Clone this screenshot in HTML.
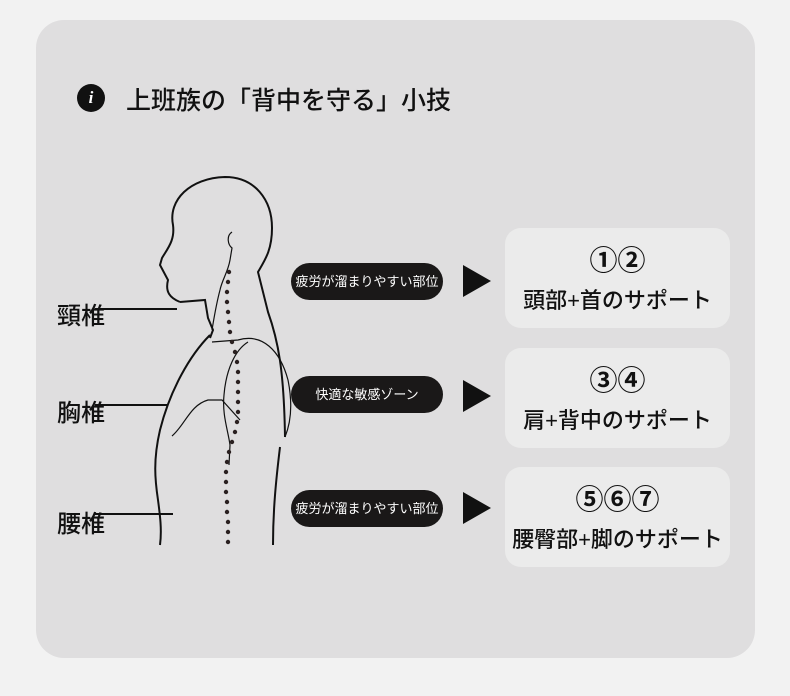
<!DOCTYPE html>
<html><head><meta charset="utf-8"><style>
body{margin:0;width:790px;height:696px;background:#f2f2f2;position:relative;overflow:hidden;font-family:"Liberation Sans","Noto Sans CJK JP",sans-serif;}
.card{position:absolute;left:36px;top:20px;width:719px;height:638px;background:#dfdedf;border-radius:28px;}
.t{position:absolute;color:#111;white-space:nowrap;}
.pill{position:absolute;left:291px;width:152px;height:37px;background:#1a1818;border-radius:19px;color:#fff;font-size:13px;line-height:37px;text-align:center;}
.tri{position:absolute;left:463px;width:0;height:0;border-top:16px solid transparent;border-bottom:16px solid transparent;border-left:28px solid #111;}
.box{position:absolute;left:505px;width:225px;height:100px;background:#ebebeb;border-radius:16px;text-align:center;color:#111;}
.box .n{font-size:28px;margin-top:16px;line-height:34px;font-weight:bold;}
.box .s{font-size:22px;margin-top:8px;line-height:30px;font-weight:500;}
</style></head><body>
<div class="card"></div>
<div style="position:absolute;left:77px;top:84px;width:28px;height:28px;border-radius:50%;background:#111;color:#fff;font:italic bold 17px 'Liberation Serif',serif;text-align:center;line-height:28px;">i</div>
<div class="t" style="left:126px;top:81px;font-size:25px;font-weight:500;">上班族の「背中を守る」小技</div>

<div class="t" style="left:57px;top:296px;font-size:24px;font-weight:500;">頸椎</div>
<div class="t" style="left:57px;top:393px;font-size:24px;font-weight:500;">胸椎</div>
<div class="t" style="left:57px;top:504px;font-size:24px;font-weight:500;">腰椎</div>

<svg style="position:absolute;left:0;top:0" width="790" height="696">
<g fill="none" stroke="#111" stroke-width="2">
<line x1="95" y1="309" x2="177" y2="309"/>
<line x1="95" y1="405" x2="168" y2="405"/>
<line x1="95" y1="514" x2="173" y2="514"/>
<path d="M180,302 C170,298 165,292 168,280 L160,265 L162,258 C168,248 175,240 173,225 C168,200 190,178 225,177 C255,177 272,200 272,228 C272,250 265,260 258,272 L268,312 C278,340 284,370 285,437"/>
<path d="M280,447 C276,480 273,510 273,545"/>
<path d="M180,302 L205,300 L208,318 L213,330 L210,338"/>
<path d="M210,335 C190,355 170,390 160,430 C153,460 155,480 158,500 C160,515 162,530 160,545"/>
</g>
<g fill="none" stroke="#111" stroke-width="1.2">
<path d="M232,232 C226,236 228,245 232,248 L230,260 C228,272 222,280 220,290 C216,305 214,318 212,330"/>
<path d="M212,342 L238,340 C262,333 280,350 288,380 C292,400 292,420 285,437"/>
<path d="M248,342 C235,350 226,370 224,395 C222,415 228,430 230,445 L229,465"/>
<path d="M172,436 C185,425 190,405 208,400 L222,400 L240,420"/>
</g>
<g fill="#2a2020">
<circle cx="229" cy="272" r="2.2"/><circle cx="228" cy="282" r="2.2"/><circle cx="227" cy="292" r="2.2"/><circle cx="227" cy="302" r="2.2"/><circle cx="228" cy="312" r="2.2"/><circle cx="229" cy="322" r="2.2"/><circle cx="230" cy="332" r="2.2"/><circle cx="232" cy="342" r="2.2"/><circle cx="235" cy="352" r="2.2"/><circle cx="237" cy="362" r="2.2"/><circle cx="238" cy="372" r="2.2"/><circle cx="238" cy="382" r="2.2"/><circle cx="238" cy="392" r="2.2"/><circle cx="238" cy="402" r="2.2"/><circle cx="238" cy="412" r="2.2"/><circle cx="237" cy="422" r="2.2"/><circle cx="235" cy="432" r="2.2"/><circle cx="232" cy="442" r="2.2"/><circle cx="229" cy="452" r="2.2"/><circle cx="227" cy="462" r="2.2"/><circle cx="226" cy="472" r="2.2"/><circle cx="226" cy="482" r="2.2"/><circle cx="226" cy="492" r="2.2"/><circle cx="227" cy="502" r="2.2"/><circle cx="227" cy="512" r="2.2"/><circle cx="228" cy="522" r="2.2"/><circle cx="228" cy="532" r="2.2"/><circle cx="228" cy="542" r="2.2"/>
</g>
</svg>

<div class="pill" style="top:263px;">疲労が溜まりやすい部位</div>
<div class="pill" style="top:376px;">快適な敏感ゾーン</div>
<div class="pill" style="top:490px;">疲労が溜まりやすい部位</div>
<div class="tri" style="top:265px;"></div>
<div class="tri" style="top:380px;"></div>
<div class="tri" style="top:492px;"></div>

<div class="box" style="top:228px;"><div class="n">①②</div><div class="s">頭部+首のサポート</div></div>
<div class="box" style="top:348px;"><div class="n">③④</div><div class="s">肩+背中のサポート</div></div>
<div class="box" style="top:467px;"><div class="n">⑤⑥⑦</div><div class="s">腰臀部+脚のサポート</div></div>
</body></html>
